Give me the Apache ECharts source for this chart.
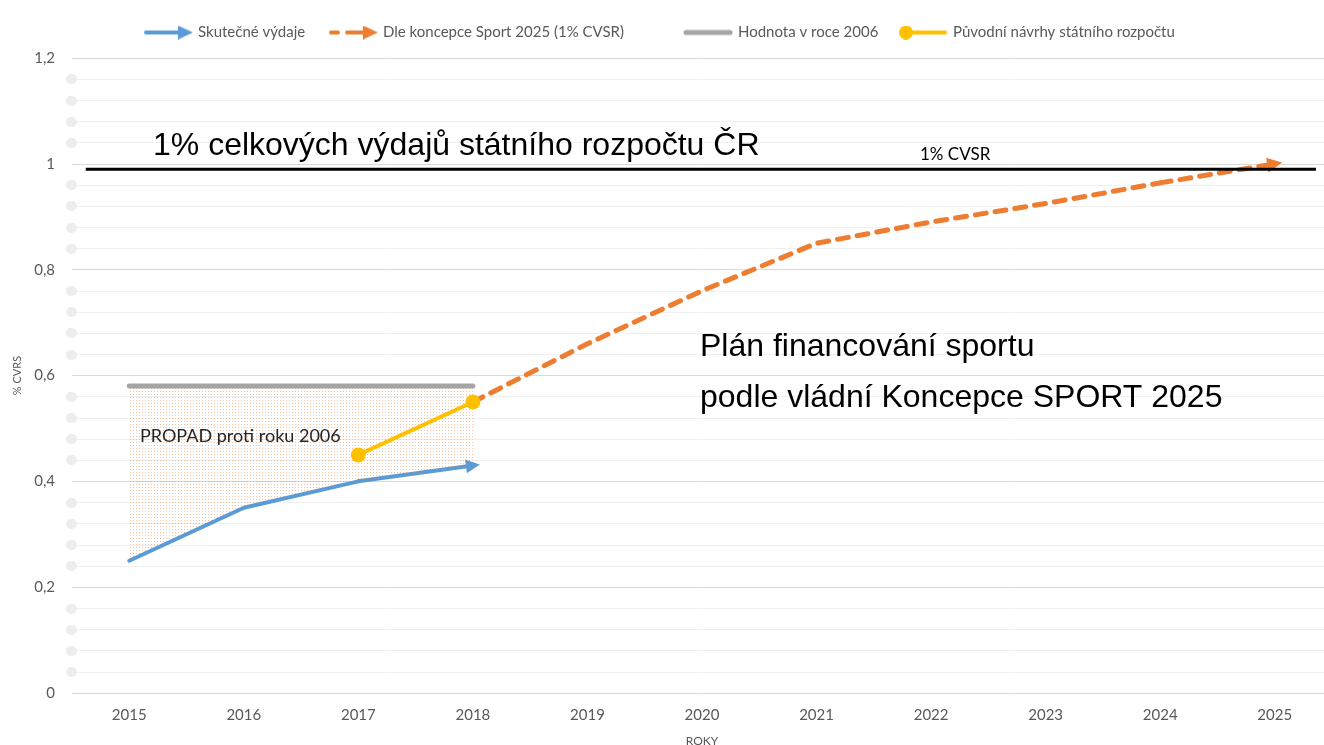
<!DOCTYPE html>
<html>
<head>
<meta charset="utf-8">
<script src="https://cdn.jsdelivr.net/npm/echarts@6/dist/echarts.min.js"></script>
<style>
  html, body { margin: 0; padding: 0; background: #fff; }
  #chart { width: 1324px; height: 745px; }
</style>
</head>
<body>
<div id="chart"></div>
<script>
// roky a hodnoty (% CVSR)
const years = ["2015", "2016", "2017", "2018", "2019", "2020", "2021", "2022", "2023", "2024", "2025"];
const actual = [0.25, 0.35, 0.40, 0.43];
const plan = [null, null, null, 0.55, 0.66, 0.76, 0.85, 0.89, 0.925, 0.964, 1.0];
const level2006 = [0.58, 0.58, 0.58, 0.58];
const proposals = [null, null, 0.45, 0.55];
const cvsrLine = [[2014.62, 0.99], [2025.36, 0.99]];

const names = ["Skutečné výdaje", "Dle koncepce Sport 2025 (1% CVSR)", "Hodnota v roce 2006", "Původní návrhy státního rozpočtu"];
const colors = ["#5B9BD5", "#ED7D31", "#A5A5A5", "#FFC000"];

// tečkovaná výplň pro propad
function dotPattern() {
  const c = document.createElement("canvas");
  c.width = 3;
  c.height = 3;
  const ctx = c.getContext("2d");
  ctx.fillStyle = "rgba(237,125,49,0.45)";
  ctx.fillRect(1, 1, 1, 1);
  return c;
}

// ikonky legendy kreslene do canvasu
function legendIcon(kind, color) {
  const c = document.createElement("canvas");
  c.width = 50;
  c.height = 14;
  const ctx = c.getContext("2d");
  ctx.fillStyle = color;
  ctx.strokeStyle = color;
  ctx.lineWidth = 4;
  ctx.lineCap = "round";
  if (kind === "arrow" || kind === "dash") {
    ctx.beginPath();
    if (kind === "dash") {
      ctx.moveTo(3, 7); ctx.lineTo(10, 7);
      ctx.moveTo(19, 7); ctx.lineTo(36, 7);
    } else {
      ctx.moveTo(3, 7); ctx.lineTo(36, 7);
    }
    ctx.stroke();
    ctx.beginPath();
    ctx.moveTo(35, 0); ctx.lineTo(50, 7); ctx.lineTo(35, 14);
    ctx.closePath();
    ctx.fill();
  } else if (kind === "line") {
    ctx.lineWidth = 5;
    ctx.beginPath();
    ctx.moveTo(3, 7); ctx.lineTo(47, 7);
    ctx.stroke();
  } else {
    ctx.beginPath();
    ctx.moveTo(8, 7); ctx.lineTo(47, 7);
    ctx.stroke();
    ctx.beginPath();
    ctx.arc(8, 7, 7, 0, Math.PI * 2);
    ctx.fill();
  }
  return "image://" + c.toDataURL();
}

const iconKinds = ["arrow", "dash", "line", "dot"];
const legendLeft = [138, 323, 678, 893];

const gap = level2006.map((v, i) => +(v - actual[i]).toFixed(3));

const chart = echarts.init(document.getElementById("chart"));

const option = {
  animation: false,
  textStyle: { fontFamily: "Lato" },
  legend: names.map((n, i) => ({
    data: [{ name: n, icon: legendIcon(iconKinds[i], colors[i]) }],
    left: legendLeft[i],
    top: 20,
    itemWidth: 50,
    itemHeight: 14,
    itemGap: 4,
    textStyle: { color: "#595959", fontSize: 15, fontFamily: "Lato" },
    selectedMode: false,
  })),
  grid: { left: 72, right: -8, top: 58, bottom: 52, outerBoundsMode: "none" },
  xAxis: [
    {
      type: "category",
      data: years,
      name: "ROKY",
      nameLocation: "middle",
      nameGap: 42,
      nameTextStyle: { color: "#595959", fontSize: 12 },
      axisLine: { lineStyle: { color: "#d9d9d9", width: 1 } },
      axisTick: { show: false },
      axisLabel: { color: "#595959", fontSize: 15, margin: 15 },
    },
    { type: "value", min: 2014.5, max: 2025.5, show: false },
  ],
  yAxis: {
    type: "value",
    min: 0,
    max: 1.2,
    interval: 0.2,
    name: "% CVRS",
    nameLocation: "middle",
    nameGap: 47,
    nameTextStyle: { color: "#595959", fontSize: 11 },
    axisLine: { show: false },
    axisTick: { show: false },
    axisLabel: {
      color: "#595959",
      fontSize: 15,
      margin: 17,
      formatter: (v) => String(+v.toFixed(1)).replace(".", ","),
    },
    splitLine: { lineStyle: { color: "#d9d9d9" } },
    minorTick: { show: true, splitNumber: 5, length: 1, lineStyle: { color: "#ededed", width: 10, cap: "round" } },
    minorSplitLine: { show: true, lineStyle: { color: "#f0f0f0" } },
  },
  series: [
    {
      name: "base",
      type: "line",
      data: actual,
      stack: "gap",
      symbol: "none",
      silent: true,
      lineStyle: { opacity: 0 },
    },
    {
      name: "propad",
      type: "line",
      data: gap,
      stack: "gap",
      symbol: "none",
      silent: true,
      lineStyle: { opacity: 0 },
      areaStyle: { color: { image: dotPattern(), repeat: "repeat" }, opacity: 1 },
    },
    {
      name: "1% CVSR",
      type: "line",
      xAxisIndex: 1,
      data: cvsrLine,
      symbol: "none",
      silent: true,
      lineStyle: { color: "#000", width: 3 },
    },
    {
      name: names[2],
      type: "line",
      data: level2006,
      symbol: "none",
      color: colors[2],
      lineStyle: { color: colors[2], width: 5, cap: "round" },
    },
    {
      name: names[0],
      type: "line",
      data: actual.slice(0, 3),
      symbol: "none",
      color: colors[0],
      lineStyle: { color: colors[0], width: 4, cap: "round", join: "round" },
    },
    {
      name: names[0],
      type: "lines",
      coordinateSystem: "cartesian2d",
      symbol: ["none", "triangle"],
      symbolSize: [15, 14],
      lineStyle: { color: colors[0], width: 4, opacity: 1, cap: "round" },
      data: [{ coords: [[years[2], actual[2]], [years[3], actual[3]]] }],
    },
    {
      name: names[1],
      type: "line",
      data: plan.slice(0, 10),
      symbol: "none",
      color: colors[1],
      lineStyle: { color: colors[1], width: 5, type: [11, 9], cap: "round" },
    },
    {
      name: names[1],
      type: "lines",
      coordinateSystem: "cartesian2d",
      symbol: ["none", "triangle"],
      symbolSize: [16, 15],
      lineStyle: { color: colors[1], width: 5, opacity: 1, type: [11, 9], cap: "round" },
      data: [{ coords: [[years[9], plan[9]], [years[10], plan[10]]] }],
    },
    {
      name: names[3],
      type: "line",
      data: proposals,
      symbol: "circle",
      symbolSize: 15,
      color: colors[3],
      itemStyle: { color: colors[3] },
      lineStyle: { color: colors[3], width: 4 },
    },
  ],
  graphic: [
    {
      type: "text",
      z: 100,
      x: 153,
      y: 146,
      style: { text: "1% celkových výdajů státního rozpočtu ČR", font: "32px 'Liberation Sans'", fill: "#000", verticalAlign: "middle" },
    },
    {
      type: "text",
      z: 100,
      x: 920,
      y: 155,
      style: { text: "1% CVSR", font: "17px Lato", fill: "#000", verticalAlign: "middle" },
    },
    {
      type: "text",
      z: 100,
      x: 700,
      y: 347,
      style: { text: "Plán financování sportu", font: "32px 'Liberation Sans'", fill: "#000", verticalAlign: "middle" },
    },
    {
      type: "text",
      z: 100,
      x: 700,
      y: 398,
      style: { text: "podle vládní Koncepce SPORT 2025", font: "32px 'Liberation Sans'", fill: "#000", verticalAlign: "middle" },
    },
    {
      type: "text",
      z: 100,
      x: 140,
      y: 436,
      style: { text: "PROPAD proti roku 2006", font: "18px Lato", fill: "#262626", verticalAlign: "middle" },
    },
  ],
};

chart.setOption(option);
</script>
</body>
</html>
